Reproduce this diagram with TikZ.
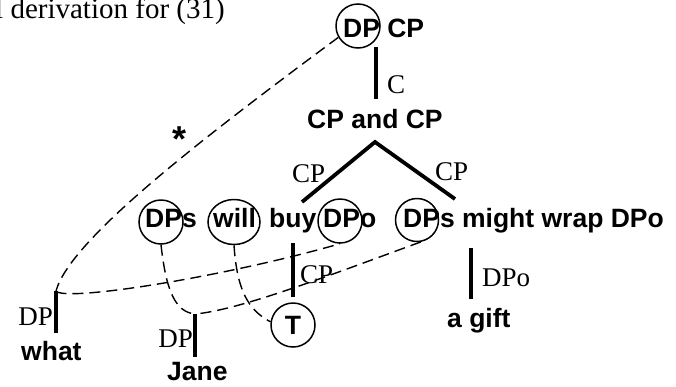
\documentclass[tikz,border=0pt]{standalone}
\usepackage{fontspec}
\setmainfont{Liberation Serif}
\newfontfamily\sansfam{Liberation Sans}
\usetikzlibrary{shapes.geometric}
\begin{document}
\begin{tikzpicture}[x=1pt,y=-1pt,
  lbl/.style={inner sep=0, anchor=base west, font=\sansfam\bfseries\fontsize{26.5}{30}\selectfont},
  gl/.style={inner sep=0, font=\fontsize{27}{30}\selectfont},
  ring/.style={draw, circle, line width=1.5pt, minimum size=44pt, inner sep=0},
  branch/.style={line width=3.8pt},
  dep/.style={dash pattern=on 11pt off 6pt, line width=1.4pt}]
\useasboundingbox (0,0) rectangle (676,386);

% title
\node[inner sep=0, anchor=base west, font=\fontsize{29}{32}\selectfont] (title) at (-5,18) {l derivation for (31)};

% top
\node[lbl] (dpcp) at (343,37) {DP CP};
\node[ring] (dpc) at (358,26) {};
\coordinate (ctop) at (376,47);
\coordinate (cbot) at (376,99);
\draw[branch] (ctop) -- (cbot);
\node[gl, anchor=base west] (clab) at (387,93) {C};
\node[lbl] (cpandcp) at (307,128) {CP and CP};

% branches
\coordinate (apex) at (375,142);
\coordinate (leftend) at (302,202);
\coordinate (rightend) at (455,199);
\draw[branch] (leftend) -- (apex) -- (rightend);
\node[gl, anchor=base west] (cpl) at (292,182) {CP};
\node[gl, anchor=base west] (cpr) at (435,180) {CP};

% second row
\node[lbl] (dps1) at (145,227) {DPs};
\node[lbl] (will) at (213,227) {will};
\node[lbl] (buy) at (269,227) {buy};
\node[lbl] (dpo1) at (323,227) {DPo};
\node[lbl] (clause2) at (403,227) {DPs might wrap DPo};
\node[ring] (c1) at (161,222) {};
\node[draw, ellipse, line width=1.5pt, minimum width=52pt, minimum height=45pt, inner sep=0] (cw) at (234,222) {};
\node[ring] (c3) at (340,221) {};
\node[ring, minimum size=43pt] (c4) at (417,220) {};

% under buy
\coordinate (buytop) at (293,243);
\coordinate (buybot) at (293,297);
\draw[branch] (buytop) -- (buybot);
\node[gl, anchor=base west] (cpb) at (300,283) {CP};
\node[ring, font=\sansfam\bfseries\fontsize{26.5}{30}\selectfont] (T) at (293,325) {T};

% under wrap
\coordinate (wraptop) at (471,248);
\coordinate (wrapbot) at (471,299);
\draw[branch] (wraptop) -- (wrapbot);
\node[gl, anchor=base west] (dpolab) at (482,286) {DPo};
\node[lbl] (gift) at (447,327) {a gift};

% what
\coordinate (whattop) at (56,291);
\coordinate (whatbot) at (56,333);
\draw[branch] (whattop) -- (whatbot);
\node[gl, anchor=base east] (dpw) at (53,325) {DP};
\node[lbl] (what) at (21,360) {what};

% Jane
\coordinate (janetop) at (195,314);
\coordinate (janebot) at (195,357);
\draw[branch] (janetop) -- (janebot);
\node[gl, anchor=base east] (dpj) at (193,347) {DP};
\node[lbl] (jane) at (167,380) {Jane};

% star
\node[inner sep=0, font=\sansfam\bfseries\fontsize{36}{40}\selectfont] (star) at (180,139) {*};

% dashed dependencies
\draw[dep] (dpc.210) .. controls (200,140) and (70,240) .. (whattop);
\draw[dep] (whattop) .. controls (64,302) and (220,278) .. (c3.south);
\draw[dep] (c4.-80) .. controls (330,275) and (240,310) .. (janetop);
\draw[dep] (c1.south) .. controls (166,290) and (175,312) .. (janetop);
\draw[dep] (cw.south) .. controls (237,290) and (248,310) .. (T.172);
\end{tikzpicture}
\end{document}
